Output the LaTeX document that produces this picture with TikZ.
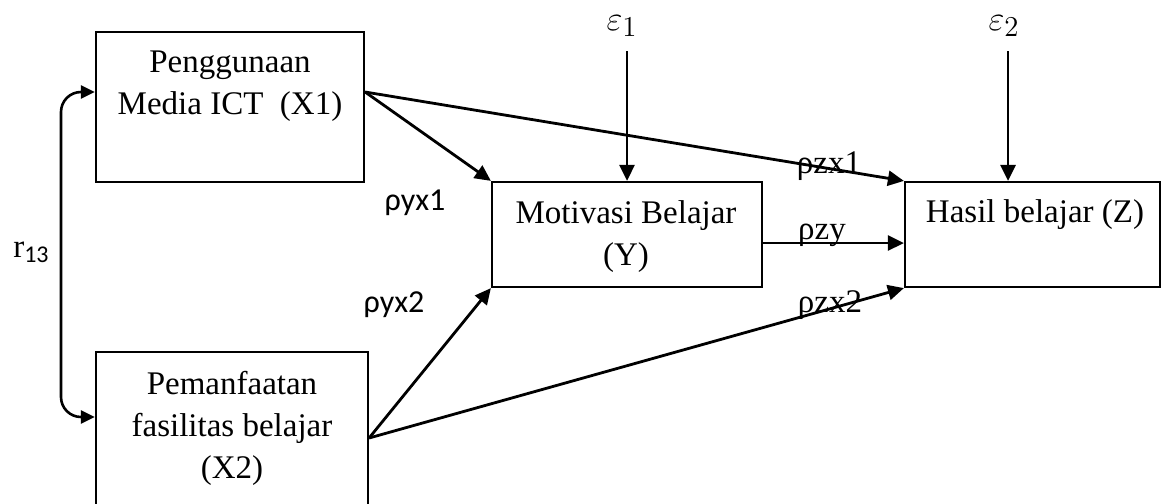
\documentclass[tikz,border=0pt]{standalone}
\usepackage{fontspec}
\setmainfont{Liberation Serif}
\newfontfamily\calibrifont{Carlito}
\usetikzlibrary{arrows.meta,positioning}

\tikzset{
  box/.style={draw, line width=1.1pt, inner sep=0pt},
  txt/.style={align=center, inner sep=0pt, font=\fontsize{16.5}{21}\selectfont},
  coef/.style={inner sep=0pt, font=\calibrifont\fontsize{16}{21}\selectfont},
  err/.style={inner sep=0pt, font=\fontsize{19}{21}\selectfont},
  link/.style={line width=1.4pt, -{Triangle[length=8pt,width=7.5pt]}},
  corr/.style={line width=1.3pt, {Triangle[length=7pt,width=6.5pt]}-{Triangle[length=7pt,width=6.5pt]}, rounded corners=10pt},
}

\begin{document}
\begin{tikzpicture}[x=0.5pt,y=-0.5pt]
  \useasboundingbox (0,0) rectangle (1170,503);

  % Boxes
  \node[box, minimum width=134pt, minimum height=75pt] (x1) at (230,107) {};
  \node[box, minimum width=136pt, minimum height=80pt] (x2) at (232,432) {};
  \node[box, minimum width=135pt, minimum height=52.5pt] (y) at (627,234.5) {};
  \node[box, minimum width=127.5pt, minimum height=52.5pt] (z) at (1032.5,234.5) {};

  % Box texts
  \node[txt] (x1t) at (230,86) {Penggunaan\\Media ICT~~(X1)};
  \node[txt] (x2t) at (232,428) {Pemanfaatan\\fasilitas belajar\\(X2)};
  \node[txt] (yt) at (626,237) {Motivasi Belajar\\(Y)};
  \node[txt] (zt) at (1035,215) {Hasil belajar (Z)};

  % Error terms
  \node[err] (e1) at (622,26) {$\varepsilon_1$};
  \node[err] (e2) at (1004,26) {$\varepsilon_2$};

  % Coefficients
  \node[coef] (lyx1) at (415,203) {ρyx1};
  \node[coef] (lyx2) at (394,305) {ρyx2};
  \node[txt] (lzx1) at (829,166) {ρzx1};
  \node[txt] (lzy) at (822,235) {ρzy};
  \node[txt] (lzx2) at (830,305) {ρzx2};
  \node[txt] (r13) at (31,252) {r\raisebox{-0.35ex}{\calibrifont\fontsize{12}{12}\selectfont 13}};

  % Paths
  \draw[link] (x1.east |- 0,92) -- (y.north west);
  \draw[link] (x1.east |- 0,92) -- (z.north west);
  \draw[link] (x2.east |- 0,438) -- (y.south west);
  \draw[link] (x2.east |- 0,438) -- (z.south west);
  \draw[link] (y.east |- 0,243) -- (z.west |- 0,243);
  \draw[link, shorten <=7pt] (e1.south -| 627,0) -- (y.north -| 627,0);
  \draw[link, shorten <=7pt] (e2.south -| 1008,0) -- (z.north -| 1008,0);

  % Correlation
  \coordinate (rbend) at (61,252);
  \draw[corr] (x1.west |- 0,92) -| (rbend) |- (x2.west |- 0,417);

\end{tikzpicture}
\end{document}
